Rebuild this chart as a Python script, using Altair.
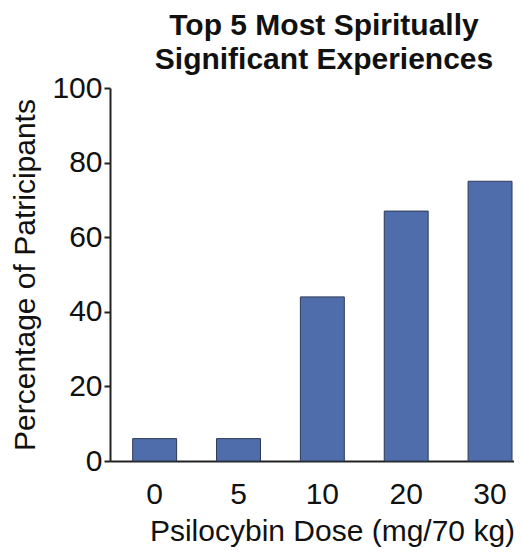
import altair as alt
import pandas as pd

doses = ["0", "5", "10", "20", "30"]
percentages = [6, 6, 44, 67, 75]

df = pd.DataFrame({"dose": doses, "pct": percentages})

FONT = "Liberation Sans"

chart = alt.Chart(df).mark_bar(
    color="#4f6dab", stroke="#2e3a55", strokeWidth=1
).encode(
    x=alt.X(
        "dose:N",
        sort=doses,
        scale=alt.Scale(paddingInner=0.476, paddingOuter=0.147, align=0.92),
        axis=alt.Axis(
            title="Psilocybin Dose (mg/70 kg)",
            labelAngle=0,
            ticks=False,
            tickSize=0,
            labelPadding=18,
            titlePadding=7,
            titleX=222,
            labelFontSize=30,
            titleFontSize=30,
            titleFontWeight="normal",
            labelColor="#111",
            titleColor="#111",
            domainColor="#222",
            domainWidth=2,
        ),
    ),
    y=alt.Y(
        "pct:Q",
        scale=alt.Scale(domain=[0, 100], nice=False),
        axis=alt.Axis(
            title="Percentage of Patricipants",
            values=[0, 20, 40, 60, 80, 100],
            grid=False,
            tickSize=6,
            tickWidth=2,
            tickColor="#222",
            labelPadding=2,
            titlePadding=11,
            labelFontSize=30,
            titleFontSize=30,
            titleFontWeight="normal",
            labelColor="#111",
            titleColor="#111",
            domainColor="#222",
            domainWidth=2,
        ),
    ),
).properties(
    width=404,
    height=373,
    title=alt.TitleParams(
        text=["Top 5 Most Spiritually", "Significant Experiences"],
        font=FONT,
        fontSize=30,
        fontWeight="bold",
        color="#111",
        lineHeight=34,
        anchor="middle",
        baseline="alphabetic",
        dx=12,
        dy=49,
        offset=23,
    ),
    autosize=alt.AutoSizeParams(type="none"),
    padding={"left": 102, "top": 80, "right": 0, "bottom": 88},
).configure_axis(
    labelFont=FONT, titleFont=FONT
).configure_view(
    stroke=None
)

chart.save("out.html", embed_options={"renderer": "svg", "actions": False})
